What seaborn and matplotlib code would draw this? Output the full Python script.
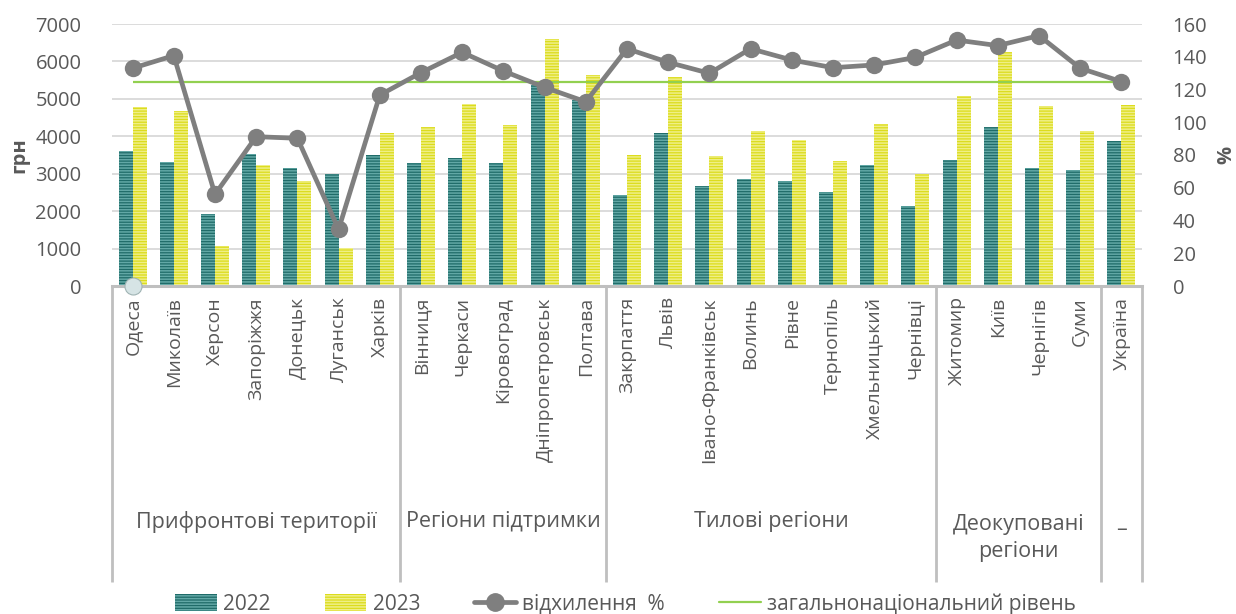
import numpy as np
import pandas as pd
import matplotlib
matplotlib.use("Agg")
import matplotlib.pyplot as plt
import matplotlib.transforms as mtransforms
from matplotlib.patches import Patch
from matplotlib.lines import Line2D
import seaborn as sns

# ---------------- data ----------------
regions = ["Одеса", "Миколаїв", "Херсон", "Запоріжжя", "Донецьк", "Луганськ", "Харків",
           "Вінниця", "Черкаси", "Кіровоград", "Дніпропетровськ", "Полтава",
           "Закрпаття", "Львів", "Івано-Франківськ", "Волинь", "Рівне", "Тернопіль",
           "Хмельницький", "Чернівці",
           "Житомир", "Київ", "Чернігів", "Суми",
           "Україна"]
groups = ["Прифронтові території", "Регіони підтримки", "Тилові регіони",
          "Деокуповані\nрегіони", "–"]
group_sizes = [7, 5, 8, 4, 1]

values_2022 = [3600, 3310, 1920, 3520, 3140, 2980, 3500,
               3280, 3420, 3280, 5370, 4970,
               2430, 4080, 2670, 2850, 2810, 2500, 3220, 2150,
               3370, 4260, 3150, 3110,
               3880]
values_2023 = [4790, 4670, 1070, 3220, 2810, 1020, 4080,
               4260, 4860, 4300, 6600, 5640,
               3500, 5580, 3480, 4130, 3900, 3340, 4330, 2990,
               5080, 6240, 4810, 4130,
               4840]
deviation_pct = [133, 140.7, 56, 91.2, 90.2, 34.6, 116.6,
                 130.3, 142.7, 131.3, 121.3, 112.5,
                 144.9, 136.6, 129.9, 144.9, 138, 133.3, 135, 139.6,
                 150.2, 146.8, 152.9, 133,
                 124.8]
national_level = 124.8
zero_marker_region = ["Одеса"]
zero_marker_value = [0]

years = ["2022", "2023"]

# ---------------- style ----------------
sns.set_theme(style="white")
FONT = ["Open Sans", "DejaVu Sans"]
plt.rcParams["font.family"] = FONT
plt.rcParams["hatch.linewidth"] = 1.1
TXT = "#595959"

teal, teal_l = "#1f6b68", "#62a8a6"
yel, yel_l = "#dcdc1c", "#efef86"
gray = "#7f7f7f"
green = "#92d050"

df = pd.DataFrame({
    "region": regions * 2,
    "year": [years[0]] * len(regions) + [years[1]] * len(regions),
    "value": values_2022 + values_2023,
})

fig = plt.figure(figsize=(12.36, 6.14), dpi=100)
ax = fig.add_axes([112 / 1236, 1 - 286 / 614, (1142 - 112) / 1236, (286 - 24) / 614])

sns.barplot(data=df, x="region", y="value", hue="year", order=regions,
            hue_order=years, palette=[teal, yel], width=0.68, ax=ax,
            legend=False, saturation=1, linewidth=0)
for cont, lc in zip(ax.containers, [teal_l, yel_l]):
    for p in cont:
        p.set_hatch("------")
        p.set_edgecolor(lc)
        p.set_linewidth(0)

ax.set_ylim(0, 7000)
ax.set_xlim(-0.5, len(regions) - 0.5)
ax.set_yticks(np.arange(0, 7001, 1000))
ax.yaxis.grid(True, color="#d9d9d9", lw=1.3)
ax.set_axisbelow(True)
for s in ["top", "left", "right"]:
    ax.spines[s].set_visible(False)
ax.spines["bottom"].set_color("#bfbfbf")
ax.spines["bottom"].set_linewidth(2.2)
ax.tick_params(axis="y", length=0, pad=22, labelsize=14.5, labelcolor=TXT)
ax.tick_params(axis="x", length=0, pad=8, labelsize=14, labelcolor=TXT)
ax.set_xticks(range(len(regions)))
ax.set_xticklabels(regions, rotation=90, va="top", ha="center")
ax.set_xlabel("")
ax.set_ylabel("грн", fontsize=14.5, fontweight="bold", color=TXT)
ax.yaxis.set_label_coords((29 - 112) / 1030, 0.5)

# ---------------- secondary axis ----------------
ax2 = ax.twinx()
ax2.set_ylim(0, 160)
ax2.set_yticks(np.arange(0, 161, 20))
for s in ["top", "left", "right", "bottom"]:
    ax2.spines[s].set_visible(False)
ax2.tick_params(axis="y", length=0, pad=22, labelsize=14.5, labelcolor=TXT)
ax2.grid(False)

ax2.hlines(national_level, 0, len(regions) - 1, color=green, lw=1.6, zorder=2)
line_df = pd.DataFrame({"region": regions, "dev": deviation_pct})
sns.lineplot(data=line_df, x="region", y="dev", ax=ax2, color=gray, lw=3.4,
             marker="o", markersize=12.5, markeredgewidth=0, sort=False, zorder=3)
zdf = pd.DataFrame({"region": zero_marker_region, "v": zero_marker_value})
sns.scatterplot(data=zdf, x="region", y="v", ax=ax2, s=150, color="#d6e4e5",
                edgecolor="#9fb3b3", linewidth=0.8, zorder=4, clip_on=False)
ax2.set_xlim(-0.5, len(regions) - 0.5)
ax2.set_xlabel("")
ax2.set_ylabel("%", fontsize=14.5, fontweight="bold", color=TXT)
ax2.yaxis.set_label_coords((1216 - 112) / 1030, 0.5)

# ---------------- group axis ----------------
trans = mtransforms.blended_transform_factory(ax.transData, ax.transAxes)
bounds = np.concatenate([[0], np.cumsum(group_sizes)]) - 0.5
bottom = -(582 - 286) / 262
for b in bounds:
    ax.plot([b, b], [0, bottom], transform=trans, color="#bfbfbf", lw=2,
            clip_on=False, solid_capstyle="butt")
for g, lo, hi in zip(groups, bounds[:-1], bounds[1:]):
    if "\n" in g:
        y = -(538 - 286) / 262
    elif g == "–":
        y = -(530 - 286) / 262
    else:
        y = -(522 - 286) / 262
    ax.text((lo + hi) / 2, y, g, transform=trans, ha="center", va="center",
            fontsize=15.5, color=TXT, linespacing=1.4)

# ---------------- legend ----------------
handles = [
    Patch(facecolor=teal, edgecolor=teal_l, hatch="------", lw=0, label="2022"),
    Patch(facecolor=yel, edgecolor=yel_l, hatch="------", lw=0, label="2023"),
    Line2D([], [], color=gray, lw=3.4, marker="o", markersize=12.5, label="відхилення  %"),
    Line2D([], [], color=green, lw=1.6, label="загальнонаціональний рівень"),
]
leg = fig.legend(handles=handles, loc="center", bbox_to_anchor=(0.506, 0.016),
                 ncol=4, frameon=False, handlelength=2.0,
                 handleheight=0.9, columnspacing=2.6, handletextpad=0.3,
                 prop={"family": ["Open Sans", "DejaVu Sans"], "size": 15})
for t in leg.get_texts():
    t.set_color(TXT)

fig.savefig("out.png", dpi=100)
